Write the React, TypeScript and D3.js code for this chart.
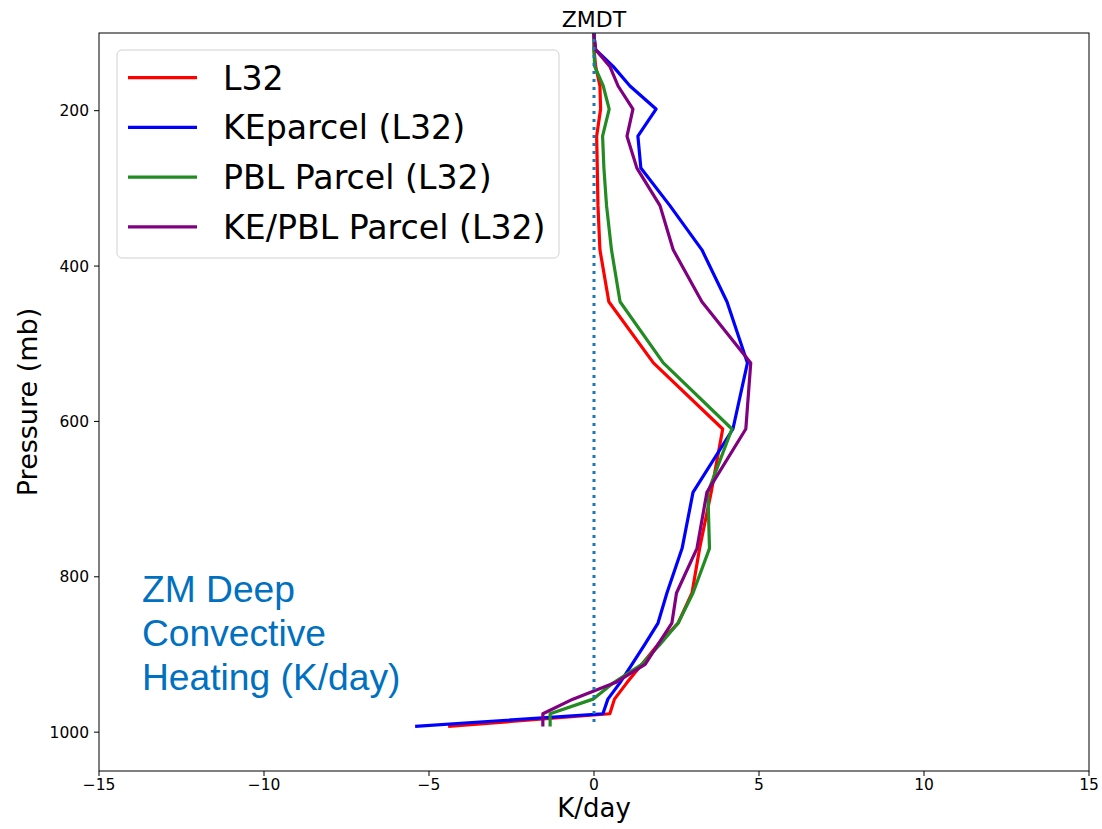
import React from "react";
import * as d3 from "d3";

// Model mid-level pressures (mb)
const levels = [76.86, 103.32, 121.55, 142.99, 168.23, 197.91, 232.83, 273.91, 322.24, 379.1, 445.99, 524.69, 609.78, 691.39, 763.4, 820.86, 859.53, 887.02, 912.64, 936.2, 957.49, 976.33, 992.56];

// ZMDT heating profiles (K/day)
const l32 = [0, 0, 0, 0.05, 0.18, 0.2, 0.08, 0.1, 0.12, 0.18, 0.45, 1.8, 3.9, 3.55, 3.2, 2.97, 2.55, 1.94, 1.45, 1.0, 0.62, 0.48, -4.42];
const keParcel = [0, 0, 0.05, 0.58, 1.09, 1.88, 1.33, 1.42, 2.3, 3.27, 4.03, 4.65, 4.21, 3.0, 2.67, 2.21, 1.94, 1.54, 1.15, 0.79, 0.42, 0.27, -5.42];
const pblParcel = [0, 0, 0, 0.02, 0.28, 0.46, 0.26, 0.3, 0.38, 0.53, 0.79, 2.1, 4.18, 3.45, 3.5, 3.0, 2.55, 2.0, 1.45, 0.6, -0.03, -1.33, -1.33];
const kePblParcel = [0, 0, 0.05, 0.48, 0.73, 1.18, 1.0, 1.3, 2.0, 2.4, 3.27, 4.75, 4.6, 3.42, 3.12, 2.5, 2.36, 1.94, 1.55, 0.65, -0.64, -1.55, -1.55];
const zeroLine = levels.map(() => 0);

const seriesNames = ["L32", "KEparcel (L32)", "PBL Parcel (L32)", "KE/PBL Parcel (L32)"];
const seriesValues = [l32, keParcel, pblParcel, kePblParcel];
const seriesColors = ["#ff0000", "#0000ff", "#228b22", "#800080"];

const xTicks = [-15, -10, -5, 0, 5, 10, 15];
const yTicks = [200, 400, 600, 800, 1000];
const noteLines = ["ZM Deep", "Convective", "Heating (K/day)"];

const W = 1102;
const H = 829;
const left = 99, right = 1089, top = 33, bottom = 771;

export default function App() {
  const x = d3.scaleLinear().domain([-15, 15]).range([left, right]);
  const y = d3.scaleLinear().domain([100, 1050]).range([top, bottom]);
  const line = d3
    .line<[number, number]>()
    .x((d) => x(d[0]))
    .y((d) => y(d[1]));
  const path = (vals: number[]) => line(vals.map((v, i) => [v, levels[i]]) as [number, number][]) || "";
  const font = "'DejaVu Sans', sans-serif";

  return (
    <svg width={W} height={H} style={{ position: "absolute", left: 0, top: 0, background: "#fff" }}>
      <defs>
        <clipPath id="plotClip">
          <rect x={left} y={top} width={right - left} height={bottom - top} />
        </clipPath>
      </defs>
      <rect x={0} y={0} width={W} height={H} fill="#fff" />

      <g clipPath="url(#plotClip)">
        {seriesValues.map((vals, i) => (
          <path key={i} d={path(vals)} fill="none" stroke={seriesColors[i]} strokeWidth={3.2} strokeLinejoin="round" />
        ))}
        <path d={path(zeroLine)} fill="none" stroke="#1f77b4" strokeWidth={3} strokeDasharray="3,5" />
      </g>

      {/* frame */}
      <rect x={left} y={top} width={right - left} height={bottom - top} fill="none" stroke="#000" strokeWidth={1} />

      {/* x axis */}
      {xTicks.map((t) => (
        <g key={t}>
          <line x1={x(t)} x2={x(t)} y1={bottom} y2={bottom + 5} stroke="#000" strokeWidth={1} />
          <text x={x(t)} y={790} textAnchor="middle" fontFamily={font} fontSize={15.5} fill="#000">
            {t < 0 ? "\u2212" + Math.abs(t) : String(t)}
          </text>
        </g>
      ))}
      {/* y axis */}
      {yTicks.map((t) => (
        <g key={t}>
          <line x1={left - 5} x2={left} y1={y(t)} y2={y(t)} stroke="#000" strokeWidth={1} />
          <text x={89} y={y(t)} dy="0.36em" textAnchor="end" fontFamily={font} fontSize={15.5} fill="#000">
            {t}
          </text>
        </g>
      ))}

      <text x={x(0)} y={26.5} textAnchor="middle" fontFamily={font} fontSize={22} fill="#000">
        ZMDT
      </text>
      <text x={x(0)} y={817} textAnchor="middle" fontFamily={font} fontSize={26} fill="#000">
        K/day
      </text>
      <text transform={`translate(37,${(top + bottom) / 2}) rotate(-90)`} textAnchor="middle" fontFamily={font} fontSize={27} fill="#000">
        Pressure (mb)
      </text>

      {/* legend */}
      <rect x={117} y={50} width={442} height={208} rx={5} fill="#fff" fillOpacity={0.8} stroke="#d0d0d0" strokeWidth={1} />
      {seriesNames.map((name, i) => {
        const ly = 77.7 + i * 49.7;
        return (
          <g key={name}>
            <line x1={128} x2={197} y1={ly} y2={ly} stroke={seriesColors[i]} strokeWidth={3.2} />
            <text x={223} y={ly} dy="0.36em" fontFamily={font} fontSize={33.2} fill="#000">
              {name}
            </text>
          </g>
        );
      })}

      {/* annotation */}
      {noteLines.map((t, i) => (
        <text key={t} x={142} y={602 + i * 44} fontFamily="'Liberation Sans', Arial, sans-serif" fontSize={37.2} fill="#0070c0">
          {t}
        </text>
      ))}
    </svg>
  );
}
